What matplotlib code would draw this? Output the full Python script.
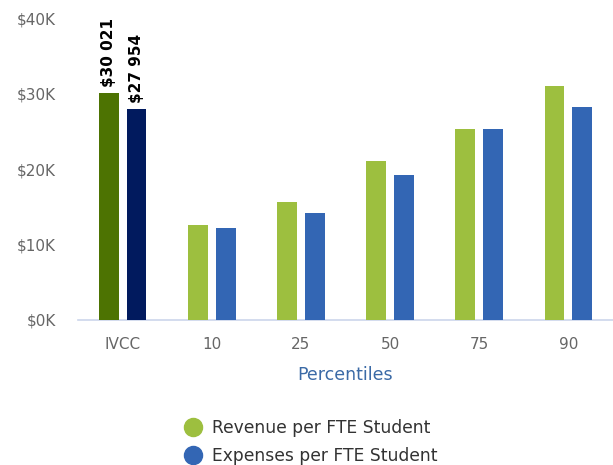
import matplotlib
matplotlib.use("Agg")
import matplotlib.pyplot as plt
import numpy as np
from matplotlib.lines import Line2D

categories = ["IVCC", "10", "25", "50", "75", "90"]
revenue = [30021, 12550, 15600, 21080, 25320, 30970]
expenses = [27954, 12120, 14200, 19230, 25320, 28150]
yticks = [0, 10000, 20000, 30000, 40000]
ytick_labels = ["$0K", "$10K", "$20K", "$30K", "$40K"]
label_texts = ["$30 021", "$27 954"]

rev_colors = ["#4d7302"] + ["#9dbf3f"] * 5
exp_colors = ["#011a5e"] + ["#3366b4"] * 5

fig = plt.figure(figsize=(6.13, 4.65), dpi=100)
ax = fig.add_axes([78/613, 145/465, 535/613, 302/465])

x = np.arange(len(categories))
w = 0.223
off = 0.156
ax.bar(x - off, revenue, w, color=rev_colors, zorder=3)
ax.bar(x + off, expenses, w, color=exp_colors, zorder=3)

ax.text(x[0] - off, revenue[0] + 800, label_texts[0], rotation=90, ha="center",
        va="bottom", fontsize=11, fontweight="bold", color="black")
ax.text(x[0] + off, expenses[0] + 800, label_texts[1], rotation=90, ha="center",
        va="bottom", fontsize=11, fontweight="bold", color="black")

ax.set_xlim(-0.5, 5.5)
ax.set_ylim(0, 40000)
ax.set_yticks(yticks)
ax.set_yticklabels(ytick_labels, fontsize=11, color="#666666")
ax.set_xticks(x)
ax.set_xticklabels(categories, fontsize=11, color="#666666")
ax.tick_params(axis="both", length=0)
ax.tick_params(axis="x", pad=12)
ax.tick_params(axis="y", pad=16)
for s in ["top", "right", "left"]:
    ax.spines[s].set_visible(False)
ax.spines["bottom"].set_color("#ccd6eb")
ax.spines["bottom"].set_linewidth(1.2)
ax.set_xlabel("Percentiles", fontsize=12.5, color="#3b6aa6", labelpad=10)

handles = [
    Line2D([], [], marker="o", linestyle="", markersize=13, color="#9dbf3f"),
    Line2D([], [], marker="o", linestyle="", markersize=13, color="#3366b4"),
]
fig.legend(handles, ["Revenue per FTE Student", "Expenses per FTE Student"],
           loc="center", bbox_to_anchor=(311/613, 1 - 442/465), frameon=False,
           fontsize=12.3, labelcolor="#333333", handletextpad=0.6,
           labelspacing=0.55, handlelength=1.0)

fig.savefig("out.png", dpi=100)
